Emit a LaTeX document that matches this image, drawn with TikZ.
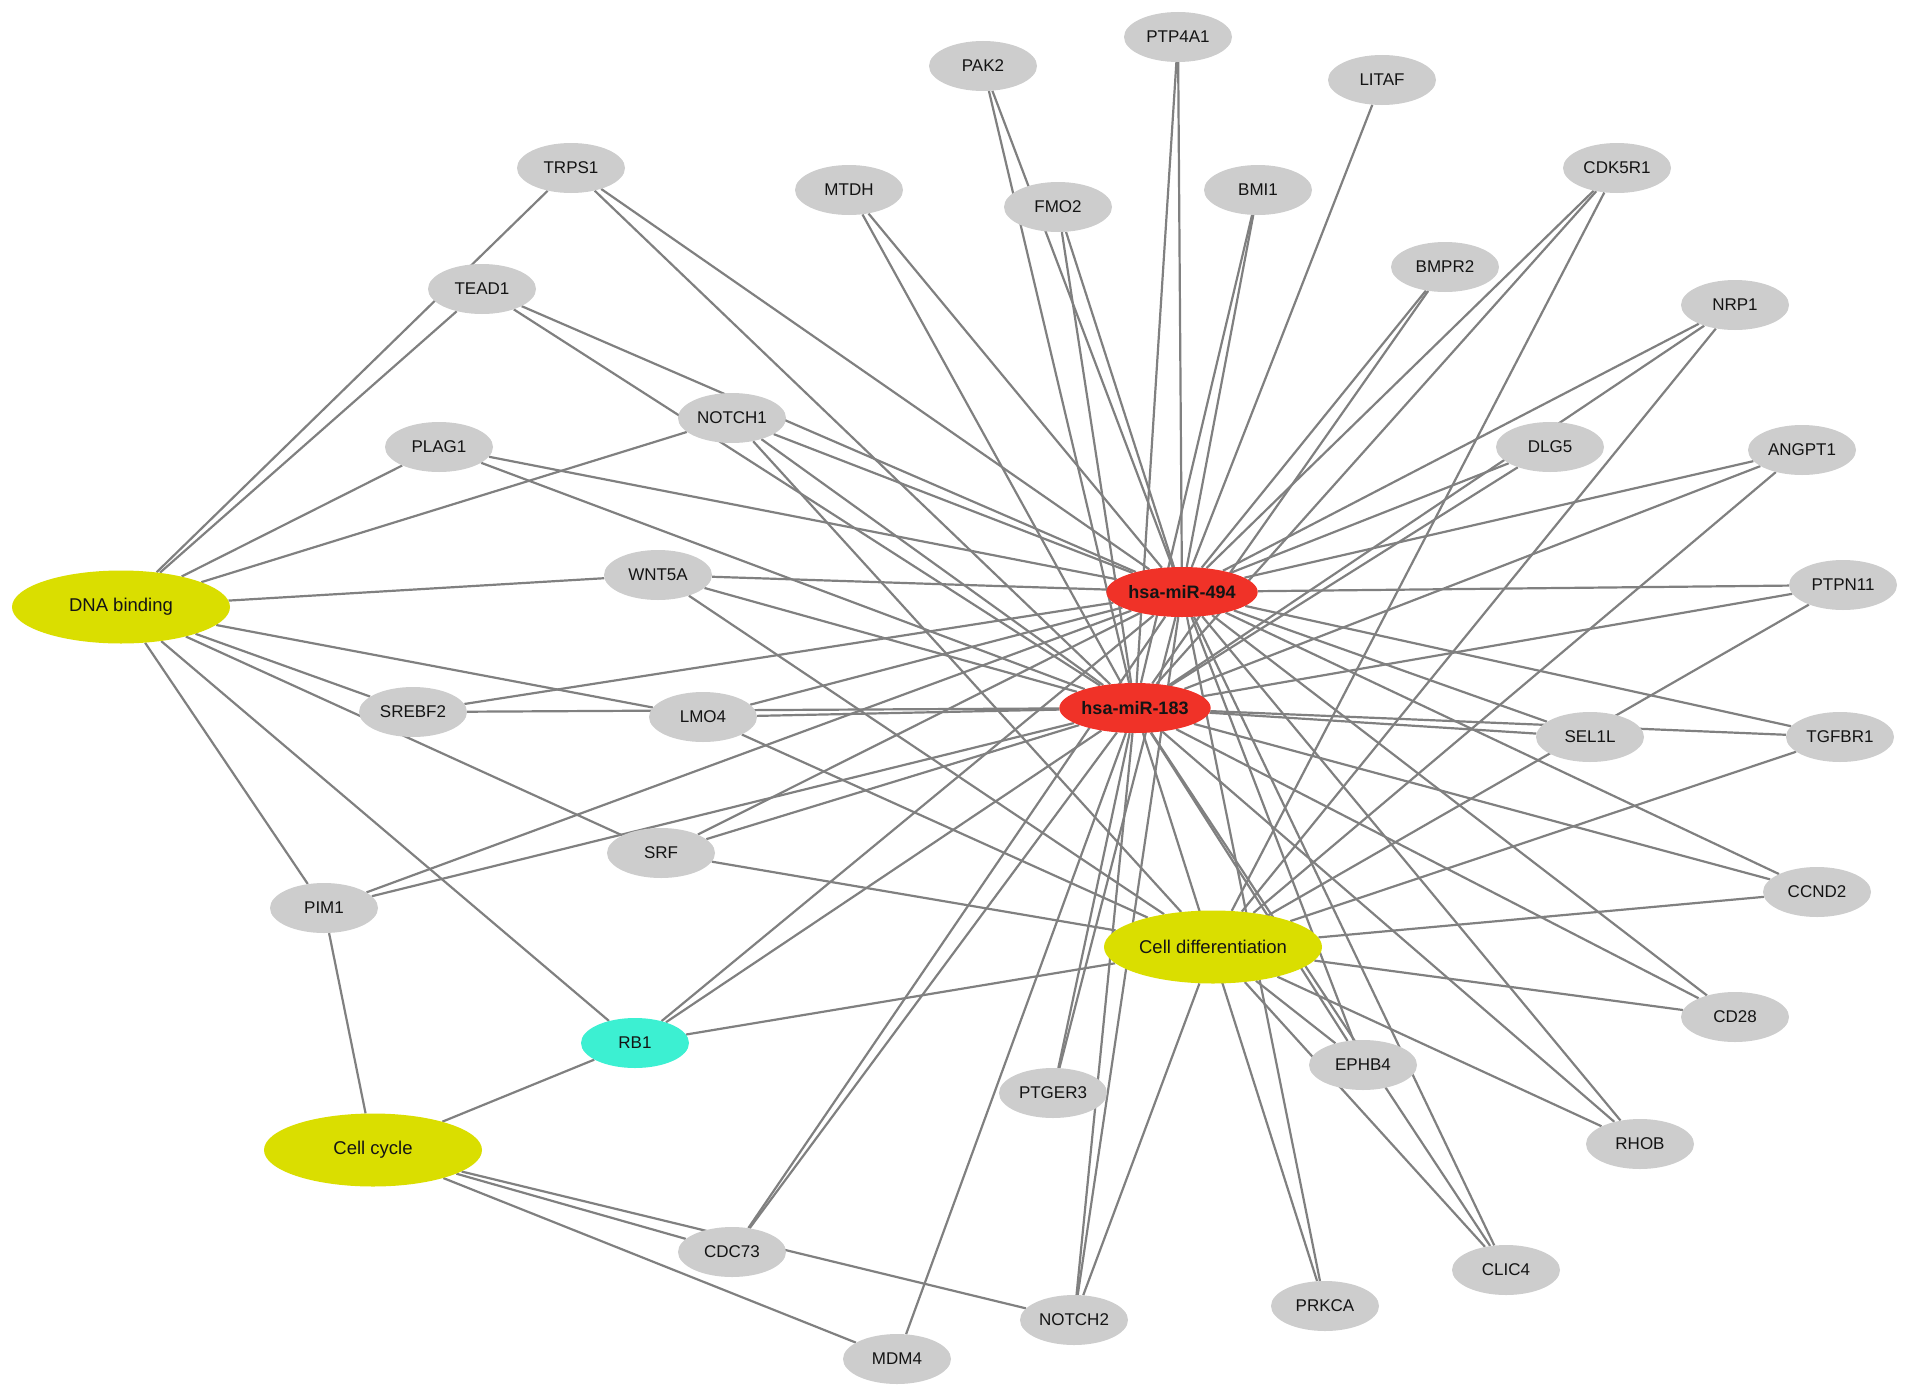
\documentclass[tikz,border=0pt]{standalone}
\usepackage{fontspec}
\setmainfont{Liberation Sans}
\usetikzlibrary{shapes.geometric,backgrounds}
\definecolor{genegray}{HTML}{CDCDCD}
\definecolor{mirred}{HTML}{F03228}
\definecolor{goyellow}{HTML}{DADE00}
\definecolor{rbcyan}{HTML}{3CF0D2}
\definecolor{edgegray}{HTML}{808080}
\definecolor{labeltext}{HTML}{141414}
\tikzset{
  gene/.style={ellipse, fill=genegray, draw=none, minimum width=108pt, minimum height=50pt, inner sep=0pt, text=labeltext, font=\fontsize{17}{17}\selectfont},
  mirna/.style={ellipse, fill=mirred, draw=none, minimum width=146pt, minimum height=50pt, inner sep=0pt, text=labeltext, font=\fontsize{18}{18}\selectfont\bfseries},
  goterm/.style={ellipse, fill=goyellow, draw=none, minimum width=218pt, minimum height=73pt, inner sep=0pt, text=labeltext, font=\fontsize{18.5}{18.5}\selectfont},
  rbnode/.style={ellipse, fill=rbcyan, draw=none, minimum width=108pt, minimum height=50pt, inner sep=0pt, text=labeltext, font=\fontsize{17}{17}\selectfont},
  edge/.style={draw=edgegray, line width=2.2pt}
}
\begin{document}
\begin{tikzpicture}[x=1pt, y=-1pt]
\useasboundingbox (0,0) rectangle (1913,1397);
% hubs
\node[mirna] (m494) at (1182,592) {hsa-miR-494};
\node[mirna] (m183) at (1135,708) {hsa-miR-183};
\node[goterm] (dna) at (121,607) {DNA binding};
\node[goterm] (cd) at (1213,947) {Cell differentiation};
\node[goterm] (cc) at (373,1150) {Cell cycle};
\node[rbnode] (rb1) at (635,1043) {RB1};
% genes
\node[gene] (pak2) at (983,66) {PAK2};
\node[gene] (ptp4a1) at (1178,37) {PTP4A1};
\node[gene] (litaf) at (1382,80) {LITAF};
\node[gene] (trps1) at (571,168) {TRPS1};
\node[gene] (mtdh) at (849,190) {MTDH};
\node[gene] (fmo2) at (1058,207) {FMO2};
\node[gene] (bmi1) at (1258,190) {BMI1};
\node[gene] (cdk5r1) at (1617,168) {CDK5R1};
\node[gene] (bmpr2) at (1445,267) {BMPR2};
\node[gene] (nrp1) at (1735,305) {NRP1};
\node[gene] (tead1) at (482,289) {TEAD1};
\node[gene] (notch1) at (732,418) {NOTCH1};
\node[gene] (plag1) at (439,447) {PLAG1};
\node[gene] (dlg5) at (1550,447) {DLG5};
\node[gene] (angpt1) at (1802,450) {ANGPT1};
\node[gene] (wnt5a) at (658,575) {WNT5A};
\node[gene] (ptpn11) at (1843,585) {PTPN11};
\node[gene] (srebf2) at (413,712) {SREBF2};
\node[gene] (lmo4) at (703,717) {LMO4};
\node[gene] (sel1l) at (1590,737) {SEL1L};
\node[gene] (tgfbr1) at (1840,737) {TGFBR1};
\node[gene] (srf) at (661,853) {SRF};
\node[gene] (ccnd2) at (1817,892) {CCND2};
\node[gene] (pim1) at (324,908) {PIM1};
\node[gene] (cd28) at (1735,1017) {CD28};
\node[gene] (ephb4) at (1363,1065) {EPHB4};
\node[gene] (ptger3) at (1053,1093) {PTGER3};
\node[gene] (rhob) at (1640,1144) {RHOB};
\node[gene] (cdc73) at (732,1252) {CDC73};
\node[gene] (clic4) at (1506,1270) {CLIC4};
\node[gene] (prkca) at (1325,1306) {PRKCA};
\node[gene] (notch2) at (1074,1320) {NOTCH2};
\node[gene] (mdm4) at (897,1359) {MDM4};
\begin{pgfonlayer}{background}
% DNA binding
\foreach \g in {trps1,tead1,plag1,notch1,wnt5a,srebf2,srf,lmo4,pim1,rb1}
  \draw[edge] (dna) -- (\g);
% Cell cycle
\foreach \g in {pim1,rb1,cdc73,notch2,mdm4}
  \draw[edge] (cc) -- (\g);
% Cell differentiation
\foreach \g in {notch1,wnt5a,lmo4,srf,rb1,cdk5r1,nrp1,angpt1,ptpn11,tgfbr1,ccnd2,cd28,rhob,ephb4,clic4,notch2}
  \draw[edge] (cd) -- (\g);
% hsa-miR-494
\foreach \g in {pak2,ptp4a1,litaf,trps1,mtdh,fmo2,bmi1,cdk5r1,bmpr2,nrp1,tead1,notch1,plag1,dlg5,angpt1,wnt5a,ptpn11,srebf2,lmo4,sel1l,tgfbr1,srf,ccnd2,pim1,cd28,rb1,ephb4,ptger3,rhob,cdc73,clic4,prkca,notch2}
  \draw[edge] (m494) -- (\g);
% hsa-miR-183
\foreach \g in {pak2,ptp4a1,trps1,mtdh,fmo2,bmi1,cdk5r1,bmpr2,nrp1,tead1,notch1,plag1,dlg5,angpt1,wnt5a,ptpn11,srebf2,lmo4,sel1l,tgfbr1,srf,ccnd2,pim1,cd28,rb1,ephb4,ptger3,rhob,cdc73,clic4,prkca,notch2,mdm4}
  \draw[edge] (m183) -- (\g);
\end{pgfonlayer}
\end{tikzpicture}
\end{document}
